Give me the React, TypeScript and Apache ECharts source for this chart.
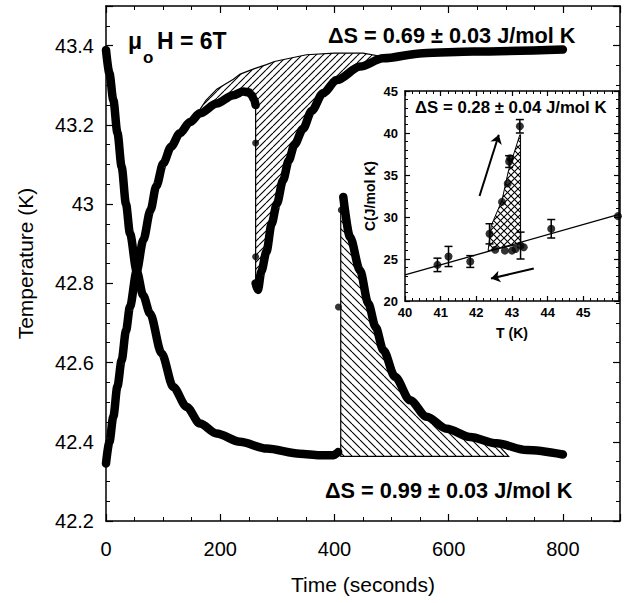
import React, { useEffect, useRef } from 'react';
import * as echarts from 'echarts';

type P = [number, number];

// ---------- main panel: time (s) vs temperature (K) ----------
const mainXTickLabels = [0, 200, 400, 600, 800];
const mainYTickLabels = [42.2, 42.4, 42.6, 42.8, 43, 43.2, 43.4];

// curve A : relaxation from 43.39 K, then heat pulse at ~410 s and relaxation
const curveA1: P[] = [
  [0, 43.389], [6, 43.33], [12.8, 43.263], [20, 43.18], [27.4, 43.094], [35, 43.0],
  [42, 42.926], [53.7, 42.831], [65, 42.77], [77, 42.724], [97.4, 42.623], [117.8, 42.538],
  [141.2, 42.488], [164.5, 42.446], [193.6, 42.421], [234.5, 42.4], [281, 42.383],
  [339.5, 42.37], [374, 42.366], [397.7, 42.366], [406.5, 42.374],
];
const curveA2: P[] = [
  [415.5, 43.018], [427.2, 42.917], [444.7, 42.833], [459.3, 42.749], [472, 42.69],
  [485.6, 42.631], [506, 42.564], [532.3, 42.505], [561.5, 42.463], [596.6, 42.433],
  [637.4, 42.412], [684, 42.396], [736.6, 42.379], [800, 42.368],
];
// curve B : heating from 42.35 K, with the dip at ~262 s
const curveB1: P[] = [
  [0, 42.345], [6, 42.4], [12.8, 42.463], [20, 42.54], [27.4, 42.606], [35, 42.68],
  [42, 42.741], [53.7, 42.831], [65.3, 42.909], [78, 42.985], [88, 43.045], [100.3, 43.103],
  [114, 43.145], [129.5, 43.179], [147, 43.207], [164.5, 43.229], [193.8, 43.254],
  [222.9, 43.275], [240.4, 43.284], [250, 43.282], [255.1, 43.275], [259, 43.265], [262, 43.25],
];
const curveB2: P[] = [
  [262, 42.8], [266, 42.783], [272, 42.83], [281, 42.88], [290, 42.95], [299, 43.0],
  [310, 43.06], [320, 43.11], [330, 43.15], [345, 43.19], [360, 43.235], [380, 43.28],
  [404, 43.313], [445, 43.347], [485, 43.368], [555, 43.381], [643, 43.385], [800, 43.39],
];
const looseDots: P[] = [[262, 43.154], [262, 42.867], [407, 42.74], [412, 42.985]];
// thin extrapolated relaxation line bounding the upper hatched area
const fitLine: P[] = [
  [160, 43.229], [175, 43.262], [194, 43.29], [223, 43.315], [235, 43.328], [260, 43.342],
  [281, 43.352], [295, 43.36], [328, 43.37], [351, 43.377], [400, 43.381], [450, 43.381], [485, 43.372],
];
const lowerBase = 42.363;
const lowerStart = 411;
const lowerEnd = 705;

// ---------- inset: T (K) vs C (J/mol K) ----------
const insetXTickLabels = [40, 41, 42, 43, 44, 45];
const insetYTickLabels = [20, 25, 30, 35, 40, 45];
const insetLine: P[] = [[40, 23.1], [46, 30.3]];
const insetErrPts: [number, number, number][] = [
  [40.91, 24.3, 0.8], [41.22, 25.3, 1.2], [41.83, 24.7, 0.7], [42.37, 28.0, 1.2],
  [42.92, 36.6, 0.7], [43.22, 40.8, 0.8], [43.24, 26.6, 1.6], [44.1, 28.6, 1.1],
];
const insetPts: P[] = [
  [42.53, 26.1], [42.72, 31.8], [42.8, 26.0], [42.88, 34.0], [42.95, 37.0], [43.0, 26.0],
  [43.1, 26.2], [43.33, 26.4], [45.97, 30.1],
];
const insetHatch: P[] = [
  [42.33, 26.0], [42.42, 29.0], [42.72, 32.0], [42.9, 35.5], [43.22, 39.8], [43.24, 39.8], [43.24, 26.8],
];
const insetArrows: [P, P][] = [
  [[42.09, 32.5], [42.63, 39.8]],
  [[43.61, 23.86], [42.41, 22.67]],
];

const FONT = '"Liberation Sans", Arial, Helvetica, sans-serif';

function makeHatch(size: number, kinds: string[], lw: number) {
  const c = document.createElement('canvas');
  c.width = size;
  c.height = size;
  const ctx = c.getContext('2d')!;
  ctx.strokeStyle = '#000';
  ctx.lineWidth = lw;
  for (const k of kinds) {
    ctx.beginPath();
    for (let o = -size; o <= size; o += size) {
      if (k === '/') {
        ctx.moveTo(o, size);
        ctx.lineTo(o + size, 0);
      } else {
        ctx.moveTo(o, 0);
        ctx.lineTo(o + size, size);
      }
    }
    ctx.stroke();
  }
  return { image: c.toDataURL(), repeat: 'repeat', imageWidth: size, imageHeight: size };
}

export default function App() {
  const ref = useRef<HTMLDivElement>(null);
  useEffect(() => {
    if (!ref.current) return;
    const chart = echarts.init(ref.current, undefined, { renderer: 'svg' });

    const upHatch = makeHatch(7, ['/'], 1.1);
    const lowHatch = makeHatch(8, ['\\'], 1.1);
    const crossHatch = makeHatch(7, ['/', '\\'], 1.1);

    const upperPoly: P[] = [
      ...fitLine,
      ...curveB2.filter((p) => p[0] <= 485).slice().reverse(),
      ...curveB1.filter((p) => p[0] >= 160).slice().reverse(),
    ];
    const lowerPoly: P[] = [
      [lowerStart, lowerBase],
      [lowerStart, 42.99],
      ...curveA2.filter((p) => p[0] <= 690),
      [lowerEnd, lowerBase],
    ];

    const polySeries = (poly: P[], fill: any, xi: number, z: number, lw: number) => ({
      type: 'custom',
      xAxisIndex: xi,
      yAxisIndex: xi,
      z,
      silent: true,
      data: [poly[0]],
      renderItem: (_p: any, api: any) => ({
        type: 'polygon',
        shape: { points: poly.map((p) => api.coord(p)) },
        style: { fill, stroke: '#000', lineWidth: lw },
      }),
    });

    const thickLine = (data: P[]) => ({
      type: 'line',
      xAxisIndex: 0,
      yAxisIndex: 0,
      data,
      showSymbol: false,
      smooth: 0.3,
      smoothMonotone: 'x',
      z: 3,
      lineStyle: { color: '#000', width: 8.5, cap: 'round', join: 'round' },
    });

    const tickStyle = { color: '#000', width: 1.2 };
    const lineStyle = { color: '#000', width: 1.5 };

    const mainX = (pos: string, labels: boolean) => ({
      gridIndex: 0,
      type: 'value',
      min: 0,
      max: 900,
      interval: 200,
      position: pos,
      axisLine: { show: true, onZero: false, lineStyle },
      axisTick: { show: true, inside: true, length: 7, lineStyle: tickStyle },
      minorTick: { show: true, splitNumber: 4, length: 4, lineStyle: { color: '#000', width: 1 } },
      splitLine: { show: false },
      axisLabel: {
        show: labels, showMaxLabel: false, margin: 18, fontSize: 20, color: '#000', fontFamily: FONT,
        formatter: (v: number) => (mainXTickLabels.includes(Math.round(v)) ? String(Math.round(v)) : ''),
      },
      ...(labels
        ? {
            name: 'Time (seconds)',
            nameLocation: 'middle',
            nameGap: 53,
            nameTextStyle: { fontSize: 21, color: '#000', fontFamily: FONT },
          }
        : {}),
    });
    const mainY = (pos: string, labels: boolean) => ({
      gridIndex: 0,
      type: 'value',
      min: 42.2,
      max: 43.5,
      interval: 0.2,
      position: pos,
      axisLine: { show: true, onZero: false, lineStyle },
      axisTick: { show: true, inside: true, length: 7, lineStyle: tickStyle },
      minorTick: { show: true, splitNumber: 4, length: 4, lineStyle: { color: '#000', width: 1 } },
      splitLine: { show: false },
      axisLabel: {
        show: labels, showMaxLabel: false, margin: 12, fontSize: 20, color: '#000', fontFamily: FONT,
        formatter: (v: number) => {
          const r = Math.round(v * 10) / 10;
          return mainYTickLabels.includes(r) ? String(r) : '';
        },
      },
      ...(labels
        ? {
            name: 'Temperature (K)',
            nameLocation: 'middle',
            nameGap: 70,
            nameTextStyle: { fontSize: 21, color: '#000', fontFamily: FONT },
          }
        : {}),
    });
    const insetX = (pos: string, labels: boolean) => ({
      gridIndex: 1,
      type: 'value',
      min: 40,
      max: 46,
      interval: 1,
      position: pos,
      z: 6,
      axisLine: { show: true, onZero: false, lineStyle },
      axisTick: { show: true, inside: true, length: 5, lineStyle: tickStyle },
      minorTick: { show: true, splitNumber: 5, length: 3, lineStyle: { color: '#000', width: 1 } },
      splitLine: { show: false },
      axisLabel: {
        show: labels, showMaxLabel: false, margin: 5, fontSize: 13, fontWeight: 'bold', color: '#000', fontFamily: FONT,
        formatter: (v: number) => (insetXTickLabels.includes(Math.round(v)) ? String(Math.round(v)) : ''),
      },
      ...(labels
        ? {
            name: 'T (K)',
            nameLocation: 'middle',
            nameGap: 25,
            nameTextStyle: { fontSize: 14, fontWeight: 'bold', color: '#000', fontFamily: FONT },
          }
        : {}),
    });
    const insetY = (pos: string, labels: boolean) => ({
      gridIndex: 1,
      type: 'value',
      min: 20,
      max: 45,
      interval: 5,
      position: pos,
      z: 6,
      axisLine: { show: true, onZero: false, lineStyle },
      axisTick: { show: true, inside: true, length: 5, lineStyle: tickStyle },
      minorTick: { show: true, splitNumber: 5, length: 3, lineStyle: { color: '#000', width: 1 } },
      splitLine: { show: false },
      axisLabel: {
        show: labels, margin: 7, fontSize: 13, fontWeight: 'bold', color: '#000', fontFamily: FONT,
        formatter: (v: number) => (insetYTickLabels.includes(Math.round(v)) ? String(Math.round(v)) : ''),
      },
      ...(labels
        ? {
            name: 'C(J/mol K)',
            nameLocation: 'middle',
            nameGap: 28,
            nameTextStyle: { fontSize: 14, fontWeight: 'bold', color: '#000', fontFamily: FONT },
          }
        : {}),
    });

    const text = (t: string, x: number, y: number, size: number) => ({
      type: 'text',
      x,
      y,
      z: 100,
      style: {
        text: t,
        font: `bold ${size}px ${FONT}`,
        fill: '#000',
        textAlign: 'left',
        align: 'left',
        textVerticalAlign: 'middle',
        verticalAlign: 'middle',
      },
    });

    chart.setOption({
      animation: false,
      backgroundColor: '#fff',
      grid: [
        { left: 106, right: 4, top: 6, bottom: 82, show: false },
        { left: 405, right: 5, top: 91, height: 210, show: true, backgroundColor: '#fff', borderWidth: 0, z: 5 },
      ],
      xAxis: [mainX('bottom', true), mainX('top', false), insetX('bottom', true), insetX('top', false)],
      yAxis: [mainY('left', true), mainY('right', false), insetY('left', true), insetY('right', false)],
      graphic: [
        text('\u03bc', 128, 41, 23),
        text('o', 143, 57, 17),
        text('H = 6T', 157, 41, 23),
        text('\u0394S = 0.69 \u00b1 0.03 J/mol K', 328, 35, 21.7),
        text('\u0394S = 0.99 \u00b1 0.03 J/mol K', 325, 490, 21.7),
        text('\u0394S = 0.28 \u00b1 0.04 J/mol K', 415, 107, 16.8),
      ],
      series: [
        polySeries(upperPoly, upHatch, 0, 1, 1.2),
        polySeries(lowerPoly, lowHatch, 0, 1, 1.2),
        thickLine(curveA1),
        thickLine(curveA2),
        thickLine(curveB1),
        thickLine(curveB2),
        {
          type: 'scatter',
          xAxisIndex: 0,
          yAxisIndex: 0,
          data: looseDots,
          symbolSize: 7,
          itemStyle: { color: '#000' },
          z: 3,
        },
        // inset
        polySeries(insetHatch, crossHatch, 2, 7, 1),
        {
          type: 'line',
          xAxisIndex: 2,
          yAxisIndex: 2,
          data: insetLine,
          showSymbol: false,
          z: 8,
          lineStyle: { color: '#000', width: 1.3 },
        },
        {
          type: 'custom',
          xAxisIndex: 2,
          yAxisIndex: 2,
          z: 9,
          data: insetErrPts,
          renderItem: (_p: any, api: any) => {
            const t = api.value(0);
            const c = api.value(1);
            const e = api.value(2);
            const top = api.coord([t, c + e]);
            const bot = api.coord([t, c - e]);
            const w = 4;
            const st = { stroke: '#000', lineWidth: 1.5 };
            return {
              type: 'group',
              children: [
                { type: 'line', shape: { x1: top[0], y1: top[1], x2: bot[0], y2: bot[1] }, style: st },
                { type: 'line', shape: { x1: top[0] - w, y1: top[1], x2: top[0] + w, y2: top[1] }, style: st },
                { type: 'line', shape: { x1: bot[0] - w, y1: bot[1], x2: bot[0] + w, y2: bot[1] }, style: st },
              ],
            };
          },
        },
        {
          type: 'scatter',
          xAxisIndex: 2,
          yAxisIndex: 2,
          z: 10,
          data: [...insetErrPts.map((d) => [d[0], d[1]]), ...insetPts],
          symbolSize: 8,
          itemStyle: { color: '#000' },
        },
        {
          type: 'lines',
          coordinateSystem: 'cartesian2d',
          xAxisIndex: 2,
          yAxisIndex: 2,
          z: 10,
          symbol: ['none', 'arrow'],
          symbolSize: 9,
          lineStyle: { color: '#000', width: 2, opacity: 1 },
          data: insetArrows.map((a) => ({ coords: a })),
        },
      ],
    } as any);

    return () => chart.dispose();
  }, []);

  return <div ref={ref} style={{ position: 'fixed', left: 0, top: 0, width: 624, height: 603 }} />;
}
